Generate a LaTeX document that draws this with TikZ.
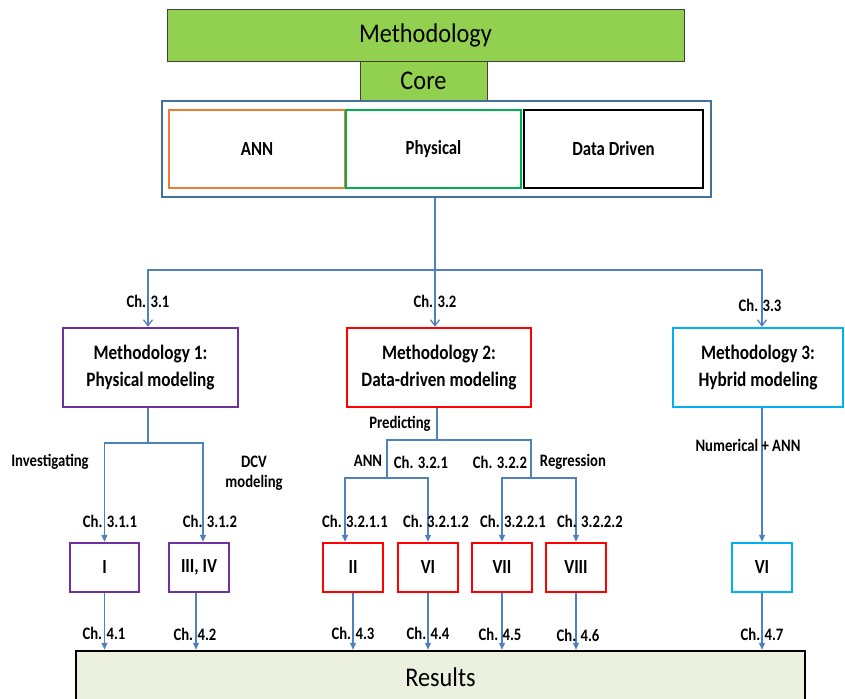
\documentclass[tikz,border=0pt]{standalone}
\usepackage{fontspec}
\setmainfont{Carlito}
\newfontfamily\narrowfont[FakeStretch=0.84]{Carlito}
\newfontfamily\titlefont[FakeStretch=0.9]{Carlito}
\usepackage{xcolor}
\definecolor{mGreen}{HTML}{92D050}
\definecolor{mFrame}{HTML}{41719C}
\definecolor{mOrange}{HTML}{ED7D31}
\definecolor{mLeaf}{HTML}{00B050}
\definecolor{mPurple}{HTML}{7030A0}
\definecolor{mRed}{HTML}{FF0000}
\definecolor{mCyan}{HTML}{00B0F0}
\definecolor{mLink}{HTML}{4F81BD}
\definecolor{mResult}{HTML}{EBF1DE}
\usetikzlibrary{positioning,arrows.meta,calc}

\begin{document}
\begin{tikzpicture}[x=1pt, y=-1pt, font=\narrowfont\bfseries,
  head/.style={draw=black!75, fill=mGreen, font=\titlefont\fontsize{27}{30}\selectfont, inner sep=0pt},
  part/.style={draw, line width=2.6pt, fill=white, minimum height=78pt, font=\narrowfont\fontsize{20}{23}\selectfont\bfseries},
  meth/.style={draw, line width=2.4pt, fill=white, minimum height=79pt, align=center, font=\narrowfont\fontsize{20.5}{27}\selectfont\bfseries},
  paper/.style={draw, line width=2.4pt, fill=white, minimum height=49pt, inner sep=0pt, font=\narrowfont\fontsize{20}{23}\selectfont\bfseries},
  lbl/.style={font=\narrowfont\fontsize{17.5}{20}\selectfont\bfseries, inner sep=0pt, align=center},
  link/.style={draw=mLink, line width=1.3pt},
  top/.style={link, -{Straight Barb[length=6pt, width=9pt, line width=1.3pt]}},
  arr/.style={link, -{Triangle[length=7pt, width=6pt]}}]
\useasboundingbox (0,0) rectangle (845,698);

% core block
\node[head, minimum width=517pt, minimum height=52pt] (title) at (425.5,35.5) {Methodology};
\node[head, minimum width=127pt, minimum height=40pt] (core) at (423.5,81) {Core};
\node[draw=mFrame, line width=2.2pt, minimum width=549pt, minimum height=96pt] (outer) at (436.5,149) {};
\node[part, draw=mOrange, minimum width=176pt] (ann) at (257,149) {ANN};
\node[part, draw=mLeaf, minimum width=175pt] (phys) at (433.5,149) {Physical};
\node[part, draw=black, minimum width=179pt] (dd) at (613.5,149) {Data Driven};

% methodologies
\node[meth, draw=mPurple, minimum width=175pt] (m1) at (150.5,367.5) {Methodology 1:\\Physical modeling};
\node[meth, draw=mRed, minimum width=184pt] (m2) at (439,367.5) {Methodology 2:\\Data-driven modeling};
\node[meth, draw=mCyan, minimum width=170pt] (m3) at (758,367.5) {Methodology 3:\\Hybrid modeling};

% papers
\node[paper, draw=mPurple, minimum width=69pt] (pI) at (104.5,567.5) {I};
\node[paper, draw=mPurple, minimum width=60pt] (pIII) at (199,567.5) {III, IV};
\node[paper, draw=mRed, minimum width=60pt] (pII) at (353,567.5) {II};
\node[paper, draw=mRed, minimum width=60pt] (pVI) at (428,567.5) {VI};
\node[paper, draw=mRed, minimum width=60pt] (pVII) at (502,567.5) {VII};
\node[paper, draw=mRed, minimum width=60pt] (pVIII) at (576,567.5) {VIII};
\node[paper, draw=mCyan, minimum width=60pt] (pVIb) at (762,567.5) {VI};

\node[draw=black, line width=2.5pt, fill=mResult, minimum width=729pt, minimum height=52pt,
  font=\titlefont\fontsize{27}{30}\selectfont] (res) at (440.5,677) {Results};

% branching
\coordinate (bus) at (435,270);
\draw[link] (outer.south -| bus) -- (bus);
\draw[top] (bus) -| (m1.north -| 148,0);
\draw[top] (bus) -- (bus |- m2.north);
\draw[top] (bus) -| (m3.north -| 762,0);

\coordinate (j1) at (148,443);
\draw[link] (m1.south -| j1) -- (j1);
\draw[arr] (j1) -| (pI.north);
\draw[arr] (j1) -| ([xshift=4pt]pIII.north);

\coordinate (j2) at (437,440);
\coordinate (k1) at (387,478);
\coordinate (k2) at (531,478);
\draw[link] (m2.south -| j2) -- (j2);
\draw[link] (k1) |- (j2) -| (k2);
\draw[arr] (k1) -| ([xshift=-8pt]pII.north);
\draw[arr] (k1) -| (pVI.north);
\draw[arr] (k2) -| (pVII.north);
\draw[arr] (k2) -| (pVIII.north);

\draw[arr] (m3.south -| pVIb.north) -- (pVIb.north);

\foreach \p in {pI,pII,pVI,pVII,pVIII,pVIb}
  \draw[arr] (\p.south) -- (\p.south |- res.north);
\draw[arr] ([xshift=-3pt]pIII.south) -- ([xshift=-3pt]pIII.south |- res.north);

% labels
\node[lbl] at (148,301) {Ch. 3.1};
\node[lbl] at (435,301) {Ch. 3.2};
\node[lbl] at (760,305) {Ch. 3.3};
\node[lbl] at (50,462) {Investigating};
\node[lbl] at (254,473) {DCV\\modeling};
\node[lbl] at (400,424) {Predicting};
\node[lbl] at (368,461) {ANN};
\node[lbl] at (421,462) {Ch. 3.2.1};
\node[lbl] at (500,462) {Ch. 3.2.2};
\node[lbl] at (573,462) {Regression};
\node[lbl] at (748,445) {Numerical + ANN};
\node[lbl] at (110,521) {Ch. 3.1.1};
\node[lbl] at (210,521) {Ch. 3.1.2};
\node[lbl] at (355,521) {Ch. 3.2.1.1};
\node[lbl] at (436,521) {Ch. 3.2.1.2};
\node[lbl] at (513,521) {Ch. 3.2.2.1};
\node[lbl] at (590,521) {Ch. 3.2.2.2};
\node[lbl] at (104,633) {Ch. 4.1};
\node[lbl] at (195,634) {Ch. 4.2};
\node[lbl] at (353,633) {Ch. 4.3};
\node[lbl] at (428,633) {Ch. 4.4};
\node[lbl] at (500,634) {Ch. 4.5};
\node[lbl] at (578,635) {Ch. 4.6};
\node[lbl] at (762,634) {Ch. 4.7};
\end{tikzpicture}
\end{document}
